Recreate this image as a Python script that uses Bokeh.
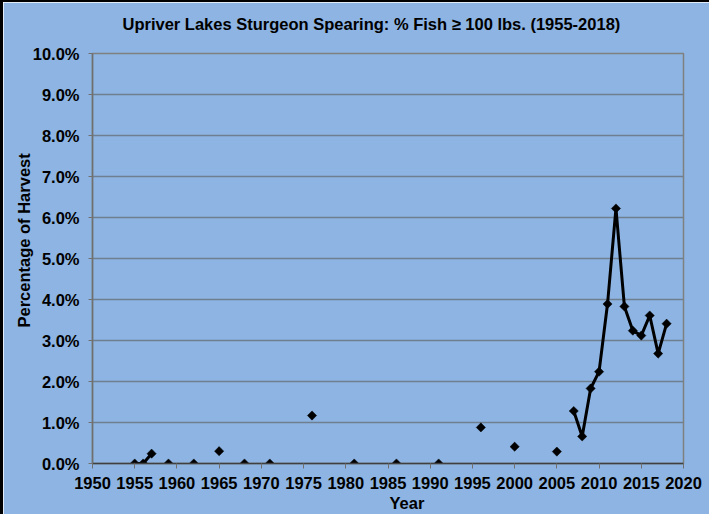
from bokeh.plotting import figure
from bokeh.models import Range1d, FixedTicker, CustomJSTickFormatter, Title
from bokeh.embed import file_html
from bokeh.resources import INLINE
import math

years = [1955, 1956, 1957, 1959, 1962, 1965, 1968, 1971, 1976, 1981, 1986, 1991,
         1996, 2000, 2005, 2007, 2008, 2009, 2010, 2011, 2012, 2013, 2014, 2015,
         2016, 2017, 2018]
pct = [0.0, 0.0, 0.24, 0.0, 0.0, 0.30, 0.0, 0.0, 1.17, 0.0, 0.0, 0.0,
       0.88, 0.41, 0.29, 1.28, 0.66, 1.83, 2.24, 3.89, 6.22, 3.83, 3.24, 3.12,
       3.61, 2.68, 3.41]
x_ticks = list(range(1950, 2021, 5))
y_ticks = list(range(0, 11))

title_text = "Upriver Lakes Sturgeon Spearing: % Fish \u2265 100 lbs. (1955-2018)"
x_title = "Year"
y_title = "Percentage of Harvest"

# break the line where years are not consecutive
lx, ly = [], []
for i, (yr, v) in enumerate(zip(years, pct)):
    if i > 0 and yr - years[i - 1] > 1:
        lx.append(float("nan")); ly.append(float("nan"))
    lx.append(yr); ly.append(v)

BG = "#8DB4E2"
FONT = "Liberation Sans"
FS = "16.5px"

p = figure(width=709, height=514, output_backend="svg", toolbar_location=None,
           x_range=Range1d(1950, 2020), y_range=Range1d(0, 10),
           min_border_left=89, min_border_right=29, min_border_top=51, min_border_bottom=53,
           background_fill_color=BG, border_fill_color=BG,
           styles={"border-top": "2px solid black", "border-left": "3px solid black"})

# second (blank) line lifts the title up into the top margin
p.title = Title(text=title_text + "\n ", align="left", offset=30, standoff=6,
                text_font=FONT, text_font_size=FS, text_font_style="bold", text_color="black")

p.outline_line_color = "#808080"
p.outline_line_width = 1.5

p.line(lx, ly, line_color="black", line_width=3)
p.scatter(years, pct, marker="square", angle=math.pi / 4, size=6.5,
          fill_color="black", line_color="black", line_width=0.5)

p.xgrid.grid_line_color = None
p.ygrid.ticker = FixedTicker(ticks=y_ticks)
p.ygrid.grid_line_color = "#6f7f90"
p.ygrid.grid_line_width = 1.5

xa = p.xaxis[0]
xa.ticker = FixedTicker(ticks=x_ticks)
xa.axis_line_color = "#404040"
xa.axis_line_width = 1.5
xa.major_tick_line_color = "#707070"
xa.major_tick_in = 0
xa.major_tick_out = 5
xa.minor_tick_line_color = None
xa.major_label_text_font = FONT
xa.major_label_text_font_size = FS
xa.major_label_text_font_style = "bold"
xa.major_label_text_color = "black"
xa.major_label_standoff = 8

ya = p.yaxis[0]
ya.ticker = FixedTicker(ticks=y_ticks)
ya.formatter = CustomJSTickFormatter(code="return tick.toFixed(1) + '%';")
ya.axis_line_color = "#707070"
ya.axis_line_width = 1.5
ya.major_tick_line_color = "#707070"
ya.major_tick_in = 0
ya.major_tick_out = 4
ya.minor_tick_line_color = None
ya.major_label_text_font = FONT
ya.major_label_text_font_size = FS
ya.major_label_text_font_style = "bold"
ya.major_label_text_color = "black"
ya.major_label_standoff = 9

p.add_layout(Title(text=x_title, align="left", offset=297, standoff=4, vertical_align="top",
                   text_font=FONT, text_font_size=FS, text_font_style="bold",
                   text_color="black"), "below")
p.add_layout(Title(text=y_title, align="left", offset=136, standoff=-6,
                   text_font=FONT, text_font_size=FS, text_font_style="bold",
                   text_color="black"), "left")

html = file_html(p, INLINE)
html = html.replace("<head>", "<head><style>html,body{overflow:hidden}</style>", 1)
open("out.html", "w").write(html)
